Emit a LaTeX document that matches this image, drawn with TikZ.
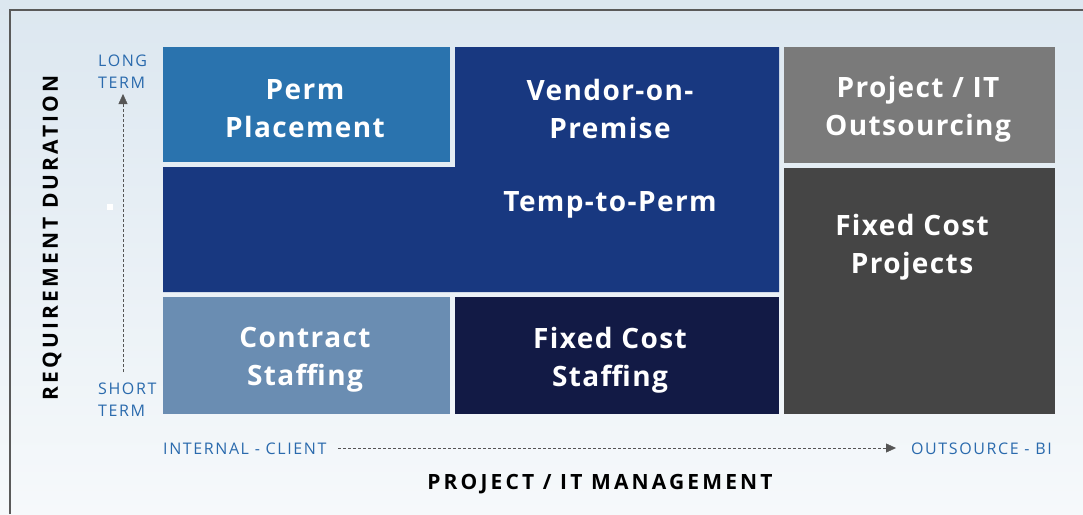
\documentclass[tikz,border=0pt]{standalone}
\usepackage{fontspec}
\setmainfont{Open Sans}
\newfontfamily\cellfont{Open Sans}[LetterSpace=5]
\newfontfamily\termfont{Open Sans}[LetterSpace=10]
\newfontfamily\axisfont{Open Sans}[LetterSpace=15]
\usetikzlibrary{positioning, arrows.meta}

\definecolor{bgtop}{HTML}{DCE7F0}
\definecolor{bgbottom}{HTML}{F6F9FB}
\definecolor{framegray}{HTML}{5A5A5A}
\definecolor{permblue}{HTML}{2A73AE}
\definecolor{vendorblue}{HTML}{183880}
\definecolor{contractblue}{HTML}{6A8DB2}
\definecolor{fixednavy}{HTML}{121A45}
\definecolor{outgray}{HTML}{7A7A7A}
\definecolor{projgray}{HTML}{454545}
\definecolor{labelblue}{HTML}{2A6AAD}
\definecolor{arrowgray}{HTML}{555555}

\begin{document}
\begin{tikzpicture}[x=1pt, y=-1pt,
  cell/.style={text=white, align=center, font=\cellfont\bfseries\fontsize{28}{38}\selectfont},
  term/.style={text=labelblue, align=left, font=\termfont\fontsize{16}{22}\selectfont, inner sep=0pt},
  axis/.style={text=black, font=\axisfont\bfseries\fontsize{21}{24}\selectfont, inner sep=0pt},
  guide/.style={arrowgray, densely dashed, thin, -{Triangle[length=10pt, width=9pt]}}]
		% background and frame
		\shade[top color=bgtop, bottom color=bgbottom] (0,0) rectangle (1083,514);
		\useasboundingbox (0,0) rectangle (1083,514);
		\draw[framegray, line width=2pt] (10,514) -- (10,10) -- (1083,10);
		% cells
		\fill[permblue] (163,47) rectangle (450,162);
		\fill[vendorblue] (455,47) -- (779,47) -- (779,292) -- (163,292) -- (163,167) -- (455,167) -- cycle;
		\fill[outgray] (784,47) rectangle (1055,163);
		\fill[projgray] (784,168) rectangle (1055,414);
		\fill[contractblue] (163,297) rectangle (450,414);
		\fill[fixednavy] (455,297) rectangle (779,414);
		\node[cell] (perm) at (305,109) {Perm\\Placement};
		\node[cell] (vendor) at (610,109) {Vendor-on-\\Premise};
		\node[cell] (temp) at (610,205) {Temp-to-Perm};
		\node[cell] (outsrc) at (918,109) {Project / IT\\Outsourcing};
		\node[cell] (fixproj) at (912,247) {Fixed Cost\\Projects};
		\node[cell] (contract) at (305,360) {Contract\\Staffing};
		\node[cell] (fixstaff) at (610,360) {Fixed Cost\\Staffing};
		% vertical axis
		\node[term, anchor=north west] (long) at (98,55) {LONG\\TERM};
		\node[term, anchor=north west] (short) at (98,383) {SHORT\\TERM};
		\coordinate (vtop) at (123,94);
		\coordinate (vbot) at (123,372);
		\draw[guide] (vbot) -- (vtop);
		\fill[white] (107,204) rectangle (113,210);
		\node[axis, rotate=90] (duration) at (52,238) {REQUIREMENT DURATION};
		% horizontal axis
		\node[term, anchor=west] (internal) at (163,449) {INTERNAL - CLIENT};
		\node[term, anchor=east] (outsource) at (1052,449) {OUTSOURCE - BI};
		\coordinate (hstart) at (338,448);
		\coordinate (hend) at (896,448);
		\draw[guide] (hstart) -- (hend);
		\node[axis] (mgmt) at (600,484) {PROJECT / IT MANAGEMENT};
\end{tikzpicture}
\end{document}
